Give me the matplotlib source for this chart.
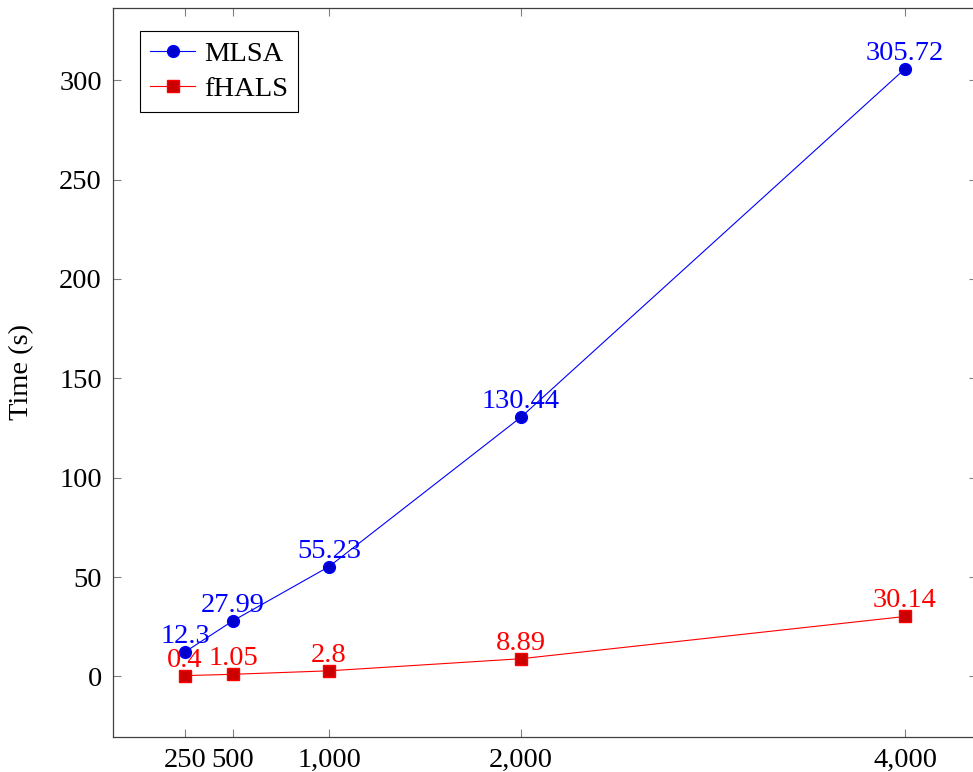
import matplotlib
matplotlib.use("Agg")
import matplotlib.pyplot as plt
from matplotlib.ticker import FuncFormatter

plt.rcParams["font.family"] = ["Liberation Serif", "DejaVu Serif"]
plt.rcParams["font.size"] = 20.5

sizes = [250, 500, 1000, 2000, 4000]
mlsa = [12.3, 27.99, 55.23, 130.44, 305.72]
fhals = [0.4, 1.05, 2.8, 8.89, 30.14]
mlsa_labels = ["12.3", "27.99", "55.23", "130.44", "305.72"]
fhals_labels = ["0.4", "1.05", "2.8", "8.89", "30.14"]
yticks = [0, 50, 100, 150, 200, 250, 300]

fig = plt.figure(figsize=(9.73, 7.72), dpi=100)
ax = fig.add_axes([113 / 973, 35 / 772, 864 / 973, 729 / 772])

ax.plot(sizes, mlsa, color="blue", lw=0.8, marker="o", ms=8.5,
        mfc="#0000cc", mec="blue", label="MLSA")
ax.plot(sizes, fhals, color="red", lw=0.8, marker="s", ms=8.5,
        mfc="#cc0000", mec="red", label="fHALS")

# value labels above each point
for x, y, s in zip(sizes, mlsa, mlsa_labels):
    ax.annotate(s, (x, y), xytext=(0, 6.5), textcoords="offset points",
                ha="center", va="baseline", color="blue")
for x, y, s in zip(sizes, fhals, fhals_labels):
    ax.annotate(s, (x, y), xytext=(0, 6.5), textcoords="offset points",
                ha="center", va="baseline", color="red")

ax.set_xlim(-125, 4375)
ax.set_ylim(-30.5, 336.3)
ax.set_xticks(sizes)
ax.xaxis.set_major_formatter(FuncFormatter(lambda v, p: f"{int(v):,}"))
ax.set_yticks(yticks)
ax.set_ylabel("Time (s)", labelpad=18)

ax.tick_params(direction="in", length=6, width=0.8, color="#808080",
               top=True, right=True, pad=8)
for sp in ax.spines.values():
    sp.set_color("#404040")
    sp.set_linewidth(0.9)

leg = ax.legend(loc="upper left", bbox_to_anchor=(0.031, 0.968),
                borderaxespad=0, fancybox=False, edgecolor="black",
                framealpha=1, handlelength=1.6, borderpad=0.35,
                labelspacing=0.3, handletextpad=0.3)
leg.get_frame().set_linewidth(0.8)

fig.savefig("out.png", dpi=100)
